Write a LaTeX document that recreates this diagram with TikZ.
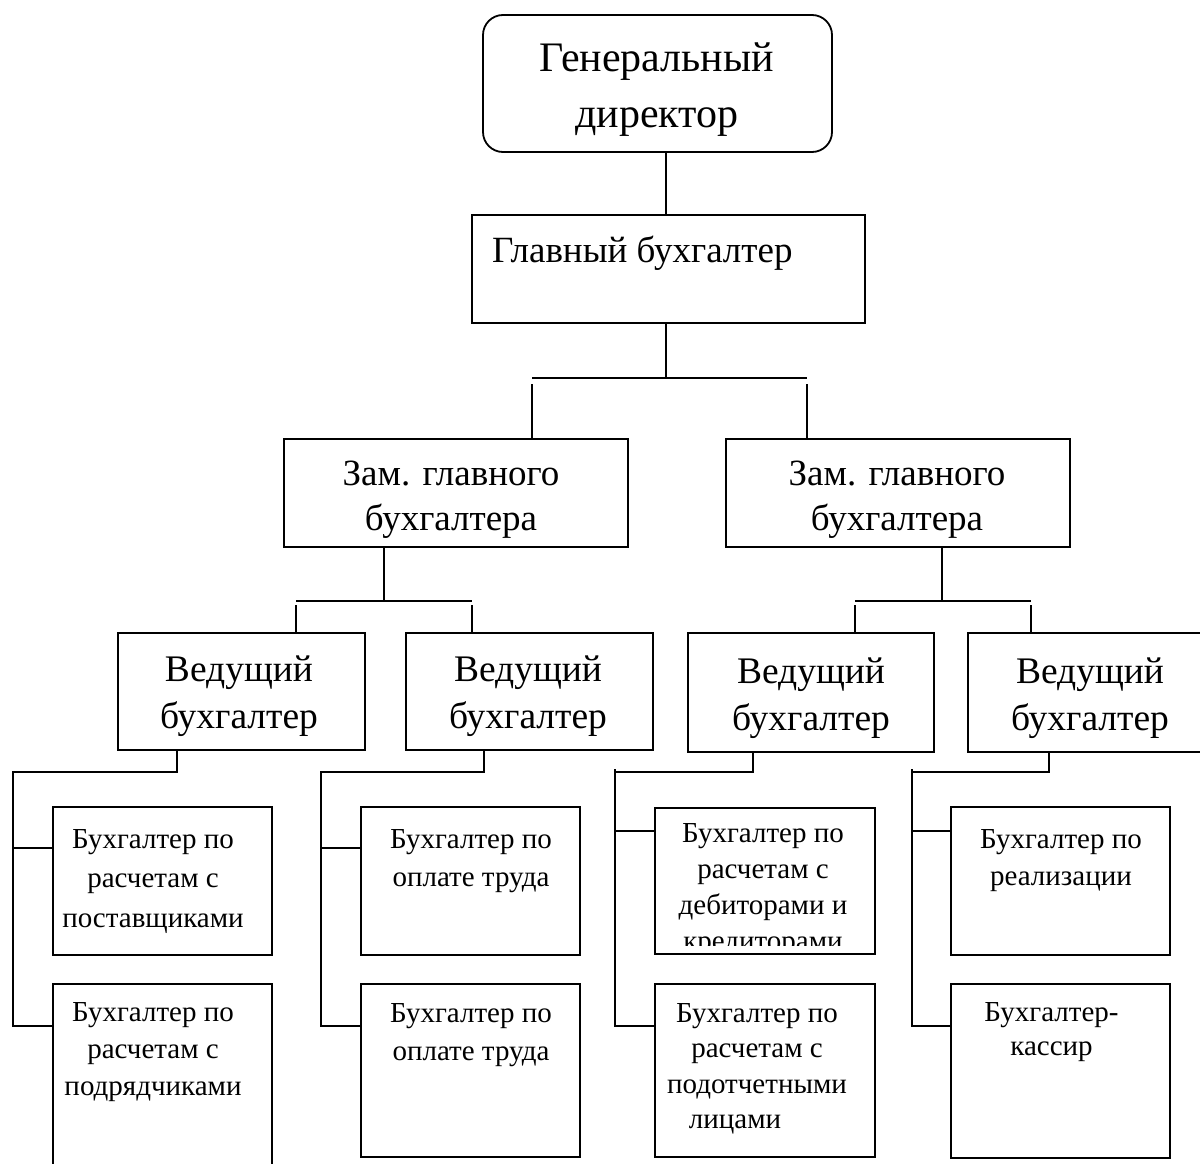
\documentclass[tikz,border=0pt]{standalone}
\usepackage{fontspec}
\setmainfont{Liberation Serif}
\begin{document}
\begin{tikzpicture}[x=1pt,y=-1pt,
  box/.style={draw=black, line width=1.8pt, inner sep=0pt, outer sep=0pt},
  conn/.style={draw=black, line width=1.8pt},
  lbl/.style={inner sep=0pt, outer sep=0pt, anchor=base, align=center},
  fbig/.style={font=\fontsize{42pt}{57pt}\selectfont},
  fmid/.style={font=\fontsize{37pt}{45pt}\selectfont},
  fved/.style={font=\fontsize{37.5pt}{47pt}\selectfont},
  fsmA/.style={font=\fontsize{29pt}{39.5pt}\selectfont},
  fsmB/.style={font=\fontsize{29pt}{37pt}\selectfont},
  fsmC/.style={font=\fontsize{29pt}{38pt}\selectfont},
  fsmD/.style={font=\fontsize{29pt}{36pt}\selectfont},
  fsmE/.style={font=\fontsize{29pt}{35.5pt}\selectfont},
  fsmF/.style={font=\fontsize{29pt}{34pt}\selectfont}]
\useasboundingbox (0,0) rectangle (1200,1164);
\clip (0,0) rectangle (1200,1164);
\fill[white] (0,0) rectangle (1200,1164);

% boxes
\node[box, rounded corners=20pt, minimum width=349pt, minimum height=137pt] (gen) at (657.5,83.5) {};
\node[box, minimum width=393pt, minimum height=108pt] (glav) at (668.5,269) {};
\node[box, minimum width=344pt, minimum height=108pt] (zam1) at (456,493) {};
\node[box, minimum width=344pt, minimum height=108pt] (zam2) at (898,493) {};
\node[box, minimum width=247pt, minimum height=117pt] (ved1) at (241.5,691.5) {};
\node[box, minimum width=247pt, minimum height=117pt] (ved2) at (529.5,691.5) {};
\node[box, minimum width=246pt, minimum height=119pt] (ved3) at (811,692.5) {};
\node[box, minimum width=247pt, minimum height=119pt] (ved4) at (1091.5,692.5) {};
\node[box, minimum width=219pt, minimum height=148pt] (l11) at (162.5,881) {};
\node[box, minimum width=219pt, minimum height=206pt] (l12) at (162.5,1087) {};
\node[box, minimum width=219pt, minimum height=148pt] (l21) at (470.5,881) {};
\node[box, minimum width=219pt, minimum height=173pt] (l22) at (470.5,1070.5) {};
\node[box, minimum width=220pt, minimum height=146pt] (l31) at (765,881) {};
\node[box, minimum width=220pt, minimum height=173pt] (l32) at (765,1070.5) {};
\node[box, minimum width=219pt, minimum height=148pt] (l41) at (1060.5,881) {};
\node[box, minimum width=219pt, minimum height=174pt] (l42) at (1060.5,1071) {};

% texts (anchor = baseline of the last line)
\node[lbl, fbig] (tgen) at (657,128) {Генеральный\\директор};
\node[lbl, fmid, anchor=base west] (tglav) at (492,262) {Главный бухгалтер};
\node[lbl, fmid] (tzam1) at (451,530) {Зам. главного\\бухгалтера};
\node[lbl, fmid] (tzam2) at (897,530) {Зам. главного\\бухгалтера};
\node[lbl, fved] (tved1) at (239,728) {Ведущий\\бухгалтер};
\node[lbl, fved] (tved2) at (528,728) {Ведущий\\бухгалтер};
\node[lbl, fved] (tved3) at (811,730) {Ведущий\\бухгалтер};
\node[lbl, fved] (tved4) at (1090,730) {Ведущий\\бухгалтер};
\node[lbl, fsmA] (tl11) at (153,927) {Бухгалтер по\\расчетам с\\поставщиками};
\node[lbl, fsmB] (tl12) at (153,1095) {Бухгалтер по\\расчетам с\\подрядчиками};
\node[lbl, fsmC] (tl21) at (471,886) {Бухгалтер по\\оплате труда};
\node[lbl, fsmC] (tl22) at (471,1060) {Бухгалтер по\\оплате труда};
\begin{scope}
  \clip (655,808) rectangle (875,945);
  \node[lbl, fsmD] (tl31) at (763,950) {Бухгалтер по\\расчетам с\\дебиторами и\\кредиторами};
\end{scope}
\node[lbl, fsmE] (tl32) at (757,1128.5) {Бухгалтер по\\расчетам с\\подотчетными\\лицами\hspace*{44pt}};
\node[lbl, fsmB] (tl41) at (1061,885) {Бухгалтер по\\реализации};
\node[lbl, fsmF] (tl42) at (1051.5,1055) {Бухгалтер-\\кассир};

% connectors top
\coordinate (j1) at (666,378);
\coordinate (a1) at (532,378);
\coordinate (a2) at (807,378);
\draw[conn] (gen.south -| j1) -- (glav.north -| j1);
\draw[conn] (glav.south -| j1) -- (j1);
\draw[conn] (a1) -- (a2);
\draw[conn] (zam1.north -| a1) -- ++(0,-55);
\draw[conn] (zam2.north -| a2) -- ++(0,-55);

% zam1 -> ved1, ved2
\coordinate (j2) at (384,601);
\coordinate (b1) at (296,601);
\coordinate (b2) at (472,601);
\draw[conn] (zam1.south -| j2) -- (j2);
\draw[conn] (b1) -- (b2);
\draw[conn] ([yshift=-4pt]b1) -- (ved1.north -| b1);
\draw[conn] ([yshift=-4pt]b2) -- (ved2.north -| b2);

% zam2 -> ved3, ved4
\coordinate (j3) at (942,601);
\coordinate (b3) at (855,601);
\coordinate (b4) at (1031,601);
\draw[conn] (zam2.south -| j3) -- (j3);
\draw[conn] (b3) -- (b4);
\draw[conn] ([yshift=-4pt]b3) -- (ved3.north -| b3);
\draw[conn] ([yshift=-4pt]b4) -- (ved4.north -| b4);

% column 1
\coordinate (c1) at (177,772);
\coordinate (t1) at (13,772);
\draw[conn] (ved1.south -| c1) -- (c1) -- (t1) -- (t1 |- 0,1026) -- (l12.west |- 0,1026);
\draw[conn] (t1 |- 0,848) -- (l11.west |- 0,848);
% column 2
\coordinate (c2) at (484,772);
\coordinate (t2) at (321,772);
\draw[conn] (ved2.south -| c2) -- (c2) -- (t2) -- (t2 |- 0,1026) -- (l22.west |- 0,1026);
\draw[conn] (t2 |- 0,848) -- (l21.west |- 0,848);
% column 3
\coordinate (c3) at (753,772);
\coordinate (t3) at (615,772);
\draw[conn] (ved3.south -| c3) -- (c3) -- (t3);
\draw[conn] ([yshift=3pt]t3) -- (t3 |- 0,1026) -- (l32.west |- 0,1026);
\draw[conn] (t3 |- 0,831) -- (l31.west |- 0,831);
% column 4
\coordinate (c4) at (1049,772);
\coordinate (t4) at (912,772);
\draw[conn] (ved4.south -| c4) -- (c4) -- (t4);
\draw[conn] ([yshift=3pt]t4) -- (t4 |- 0,1026) -- (l42.west |- 0,1026);
\draw[conn] (t4 |- 0,831) -- (l41.west |- 0,831);
\end{tikzpicture}
\end{document}
